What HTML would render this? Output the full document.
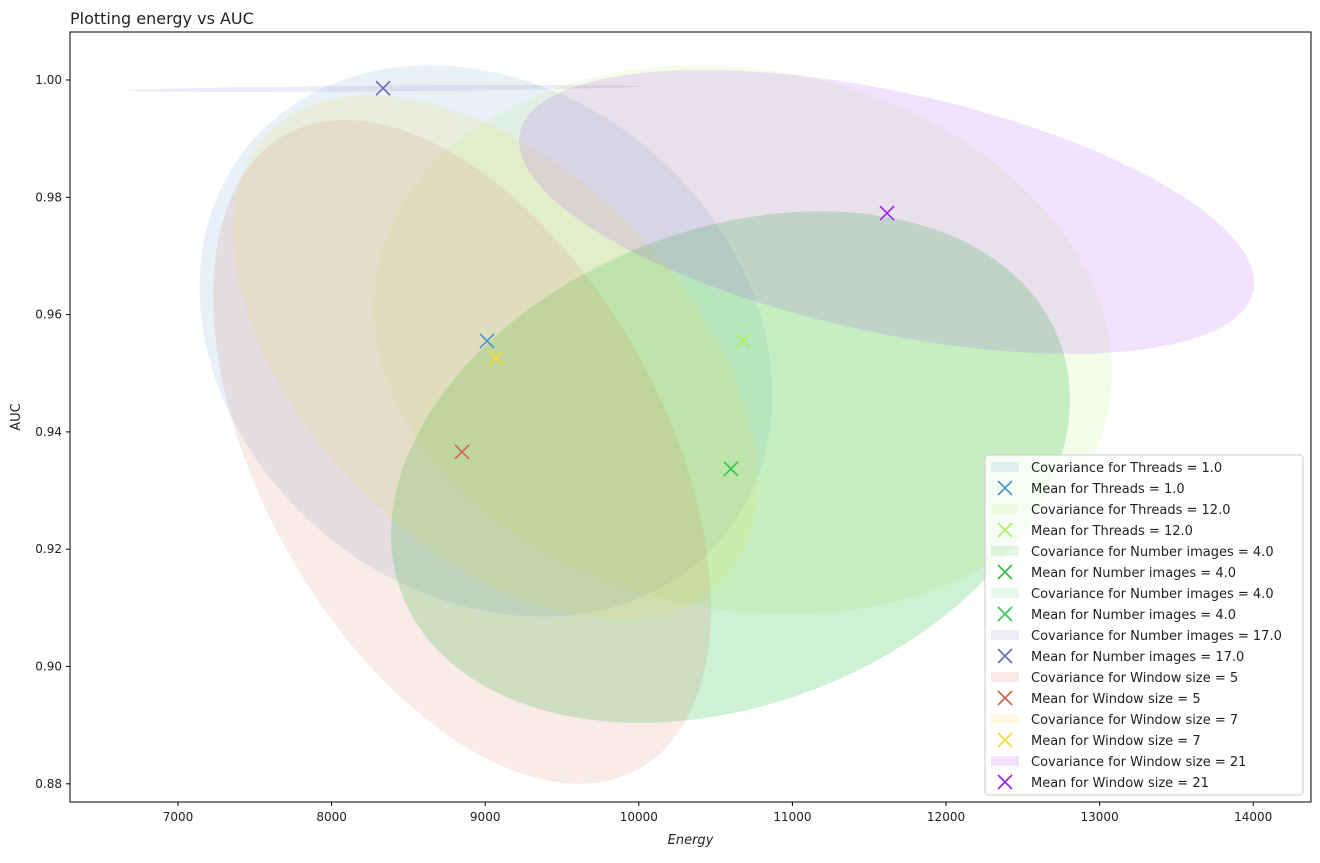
<!DOCTYPE html>
<html><head><meta charset="utf-8"><style>
body{margin:0;background:#fff}
svg text{font-family:"DejaVu Sans","Liberation Sans",sans-serif;fill:#222}
</style></head><body>
<svg id="chart" width="1320" height="858" xmlns="http://www.w3.org/2000/svg"></svg>
<script>
const labels=["Threads = 1.0","Threads = 12.0","Number images = 4.0","Number images = 4.0","Number images = 17.0","Window size = 5","Window size = 7","Window size = 21"];
const colors=["#4a93c6","#a8f25c","#2bbf3c","#3cc957","#6a6cb3","#c9664f","#f2dc2c","#9a22ee"];
const meanX=[9012,10678,10600,10600,8335,8849,9070,11616];
const meanY=[0.9555,0.9555,0.9337,0.9337,0.9986,0.9366,0.9526,0.9773];
const ellCX=[9005,10678,10597,10597,8335,8849,9067,11613];
const ellCY=[0.9555,0.9557,0.934,0.934,0.99855,0.9366,0.9527,0.9775];
const ellRX=[1865,2402,2210,2210,1670,1621,1709,2393];
const ellRY=[0.047,0.0468,0.0436,0.0436,0.0006,0.0566,0.0447,0.0242];
const ellRho=[-0.195,-0.12,0.265,0.265,0.6,-0.47,-0.48,-0.5];
const xTicks=[7000,8000,9000,10000,11000,12000,13000,14000];
const yTicks=[0.88,0.90,0.92,0.94,0.96,0.98,1.00];

const L=70,R=1311,T=32,B=802,X0=6297,X1=14376,Y0=0.8769,Y1=1.00818;
const sx=v=>L+(v-X0)/(X1-X0)*(R-L);
const sy=v=>B-(v-Y0)/(Y1-Y0)*(B-T);
const svg=document.getElementById('chart');
const NS="http://www.w3.org/2000/svg";
function mk(tag,attrs,parent){const e=document.createElementNS(NS,tag);for(const k in attrs)e.setAttribute(k,attrs[k]);(parent||svg).appendChild(e);return e;}

const clip=mk('clipPath',{id:'pc'});mk('rect',{x:L,y:T,width:R-L,height:B-T},clip);
const g=mk('g',{'clip-path':'url(#pc)'});


for(let i=0;i<labels.length;i++){
  let d='';
  for(let k=0;k<=120;k++){const t=k/120*2*Math.PI;
    const x=ellCX[i]+ellRX[i]*Math.cos(t);
    const y=ellCY[i]+ellRY[i]*(ellRho[i]*Math.cos(t)+Math.sqrt(1-ellRho[i]*ellRho[i])*Math.sin(t));
    d+=(k?'L':'M')+sx(x).toFixed(1)+','+sy(y).toFixed(1);}
  const p=mk('path',{d:d+'Z',fill:colors[i],'fill-opacity':0.13},g);
  
  
}
for(let i=0;i<labels.length;i++){
  const x=sx(meanX[i]),y=sy(meanY[i]),s=7;
  const m=mk('path',{d:`M${x-s},${y-s}L${x+s},${y+s}M${x-s},${y+s}L${x+s},${y-s}`,stroke:colors[i],'stroke-width':1.6,fill:'none'},g);
  
  
}
const fr=mk('rect',{x:L,y:T,width:R-L,height:B-T,fill:'none',stroke:'#000','stroke-width':1});


xTicks.forEach(v=>{const x=sx(v);mk('line',{x1:x,x2:x,y1:B,y2:B+4,stroke:'#000'});
  const t=mk('text',{x:x,y:B+19,'text-anchor':'middle','font-size':12});t.textContent=v;
  
  });
yTicks.forEach(v=>{const y=sy(v);mk('line',{x1:L-4,x2:L,y1:y,y2:y,stroke:'#000'});
  const t=mk('text',{x:L-8,y:y+4,'text-anchor':'end','font-size':12});t.textContent=v.toFixed(2);
  
  });
let t=mk('text',{x:(L+R)/2,y:844,'text-anchor':'middle','font-size':13,'font-style':'italic'});t.textContent='Energy';

t=mk('text',{x:20,y:(T+B)/2,'text-anchor':'middle','font-size':13,transform:`rotate(-90 20 ${(T+B)/2})`});t.textContent='AUC';

t=mk('text',{x:70,y:24,'font-size':16});t.textContent='Plotting energy vs AUC';


const lg=mk('g',{});


mk('rect',{x:985,y:455,width:318,height:340,rx:3,fill:'#fff','fill-opacity':0.85,stroke:'#ccc'},lg);
for(let i=0;i<labels.length;i++){
  const y0=467+i*2*21;
  mk('rect',{x:991,y:y0-5,width:28,height:10,fill:colors[i],'fill-opacity':0.13},lg);
  let tx=mk('text',{x:1031,y:y0+5,'font-size':13},lg);tx.textContent='Covariance for '+labels[i];
  
  const y1=y0+21,cx=1005,s=7;
  mk('path',{d:`M${cx-s},${y1-s}L${cx+s},${y1+s}M${cx-s},${y1+s}L${cx+s},${y1-s}`,stroke:colors[i],'stroke-width':1.6},lg);
  tx=mk('text',{x:1031,y:y1+5,'font-size':13},lg);tx.textContent='Mean for '+labels[i];
  
}
</script>
</body></html>
